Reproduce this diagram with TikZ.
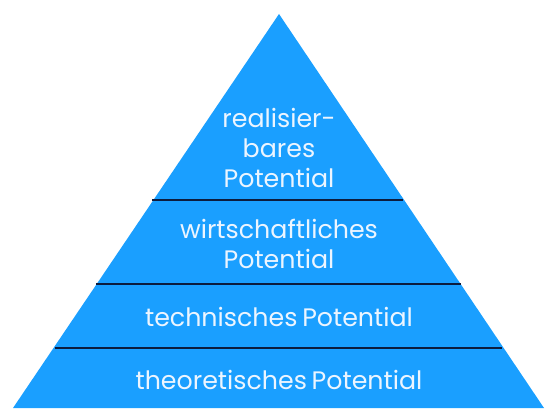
\documentclass[tikz,border=0pt]{standalone}
\usepackage{fontspec}
\setmainfont{Poppins}[WordSpace=0.7]
\usetikzlibrary{positioning}
\definecolor{pyrblue}{RGB}{26,159,255}
\definecolor{sepnavy}{RGB}{12,28,62}
\definecolor{labelwhite}{RGB}{236,245,255}
\tikzset{
  x=1pt, y=1pt,
  layer/.style={text=labelwhite, font=\fontsize{25.3}{30}\selectfont, align=center},
  separator/.style={draw=sepnavy, line width=2.4pt},
}

\begin{document}
\begin{tikzpicture}
  \useasboundingbox (0,0) rectangle (545,408);

  % pyramid
  \coordinate (apex) at (279,394);
  \coordinate (baseL) at (13,0);
  \coordinate (baseR) at (544,0);
  \fill[pyrblue] (baseL) -- (apex) -- (baseR) -- cycle;

  % separators
  \coordinate (s1L) at (152,208);
  \coordinate (s1R) at (403,208);
  \coordinate (s2L) at (96,124);
  \coordinate (s2R) at (461,124);
  \coordinate (s3L) at (55,60);
  \coordinate (s3R) at (502,60);
  \draw[separator] (s1L) -- (s1R);
  \draw[separator] (s2L) -- (s2R);
  \draw[separator] (s3L) -- (s3R);

  % labels
  \node[layer] (real) at (279,260) {realisier-\\bares\\Potential};
  \node[layer] (wirt) at (279,164.5) {wirtschaftliches\\Potential};
  \node[layer] (tech) at (279,91) {technisches Potential};
  \node[layer] (theo) at (279,28) {theoretisches Potential};
\end{tikzpicture}
\end{document}
